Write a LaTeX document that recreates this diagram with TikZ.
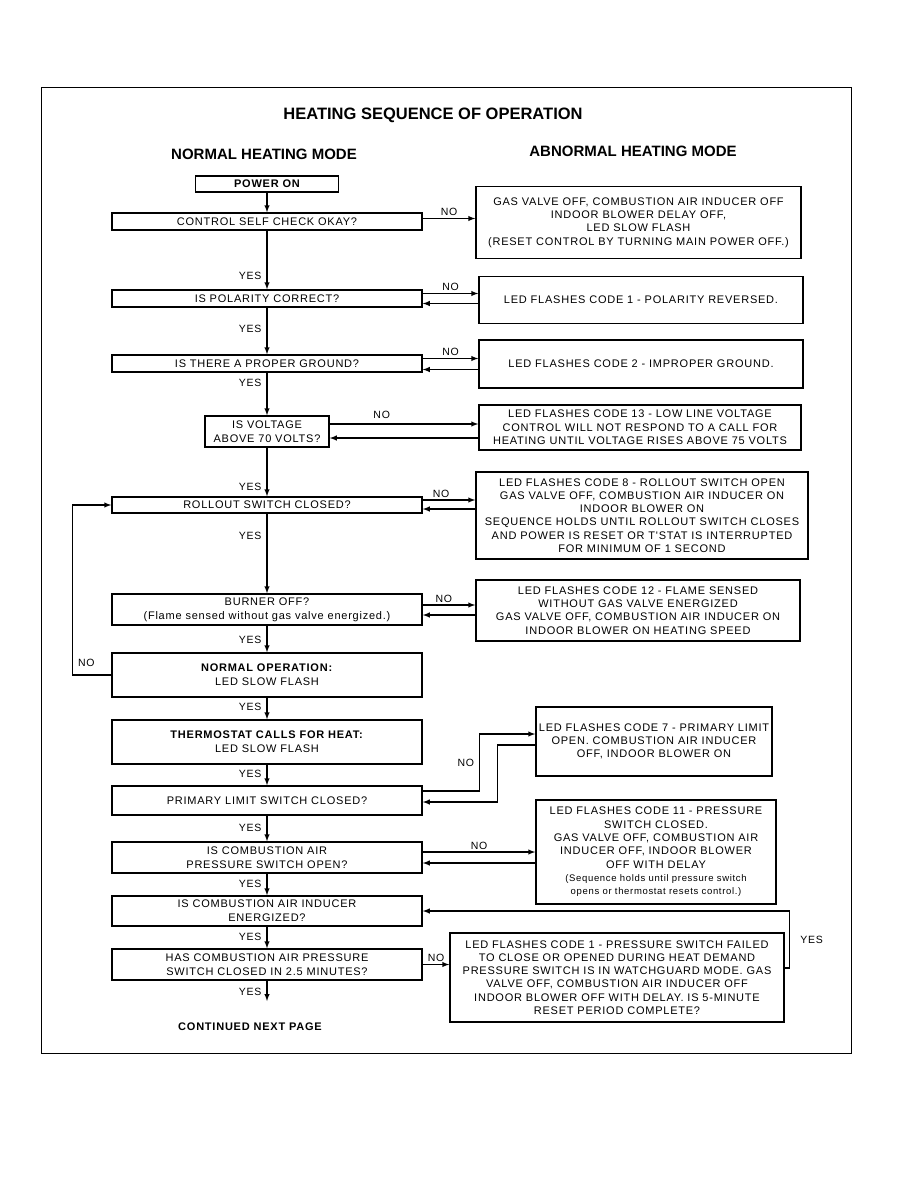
\documentclass[tikz,border=0pt]{standalone}
\usepackage{fontspec}
\setmainfont{Liberation Sans}
\newfontfamily\boxfont[LetterSpace=7]{Liberation Sans}
\usepackage{tikz}
\tikzset{>=latex}

\begin{document}
\begin{tikzpicture}[x=1pt,y=-1pt]
    \tikzstyle{stepbox}=[draw,line width=1.5pt,inner sep=0pt,align=center,font=\boxfont\fontsize{11}{14}\selectfont];
    \tikzstyle{failbox}=[stepbox,font=\boxfont\fontsize{11}{13.3}\selectfont];
    \tikzstyle{wire}=[->,line width=1.4pt];
    \tikzstyle{lbl}=[font=\boxfont\fontsize{10.5}{11}\selectfont,inner sep=2pt];
    \useasboundingbox (0,0) rectangle (918,1188);
    \draw[line width=1pt] (41,88) rectangle (851,1053);
    \node[font=\bfseries\fontsize{16.5}{18}\selectfont] (title) at (433,115) {HEATING SEQUENCE OF OPERATION};
    \node[font=\bfseries\fontsize{15}{17}\selectfont] (normal) at (264,154) {NORMAL HEATING MODE};
    \node[font=\bfseries\fontsize{15}{17}\selectfont] (abnormal) at (633,151) {ABNORMAL HEATING MODE};

    \node[stepbox,minimum width=143,minimum height=16,font=\boxfont\bfseries\fontsize{11}{14}\selectfont] (power) at (267,184) {POWER ON};
    \node[stepbox,minimum width=310,minimum height=17] (check) at (267,221.5) {CONTROL SELF CHECK OKAY?};
    \node[stepbox,minimum width=310,minimum height=17] (polar) at (267,298.5) {IS POLARITY CORRECT?};
    \node[stepbox,minimum width=310,minimum height=17] (ground) at (267,363.5) {IS THERE A PROPER GROUND?};
    \node[stepbox,minimum width=124,minimum height=31] (volt) at (267,431.5) {IS VOLTAGE\\ABOVE 70 VOLTS?};
    \node[stepbox,minimum width=310,minimum height=16] (rollout) at (267,505) {ROLLOUT SWITCH CLOSED?};
    \node[stepbox,minimum width=310,minimum height=31] (burner) at (267,609.5) {BURNER OFF?\\(Flame sensed without gas valve energized.)};
    \node[stepbox,minimum width=310,minimum height=44] (normop) at (267,675) {\textbf{NORMAL OPERATION:}\\LED SLOW FLASH};
    \node[stepbox,minimum width=310,minimum height=44] (thermo) at (267,742) {\textbf{THERMOSTAT CALLS FOR HEAT:}\\LED SLOW FLASH};
    \node[stepbox,minimum width=310,minimum height=29] (prim) at (267,800.5) {PRIMARY LIMIT SWITCH CLOSED?};
    \node[stepbox,minimum width=310,minimum height=31] (combp) at (267,857.5) {IS COMBUSTION AIR\\PRESSURE SWITCH OPEN?};
    \node[stepbox,minimum width=310,minimum height=30] (induc) at (267,911) {IS COMBUSTION AIR INDUCER\\ENERGIZED?};
    \node[stepbox,minimum width=310,minimum height=31] (hasp) at (267,964.5) {HAS COMBUSTION AIR PRESSURE\\SWITCH CLOSED IN 2.5 MINUTES?};
    \coordinate (cont) at (267,1001);
    \node[font=\boxfont\bfseries\fontsize{11}{13}\selectfont] (next) at (250,1027) {CONTINUED NEXT PAGE};

    \node[failbox,minimum width=325,minimum height=72] (fail1) at (638.5,222.5) {GAS VALVE OFF, COMBUSTION AIR INDUCER OFF\\INDOOR BLOWER DELAY OFF,\\LED SLOW FLASH\\(RESET CONTROL BY TURNING MAIN POWER OFF.)};
    \node[failbox,minimum width=324,minimum height=47] (fail2) at (641,300) {LED FLASHES CODE 1 - POLARITY REVERSED.};
    \node[failbox,minimum width=324,minimum height=48] (fail3) at (641,364) {LED FLASHES CODE 2 - IMPROPER GROUND.};
    \node[failbox,minimum width=322,minimum height=45] (fail4) at (640,427.5) {LED FLASHES CODE 13 - LOW LINE VOLTAGE\\CONTROL WILL NOT RESPOND TO A CALL FOR\\HEATING UNTIL VOLTAGE RISES ABOVE 75 VOLTS};
    \node[failbox,minimum width=332,minimum height=87] (fail5) at (642,515.5) {LED FLASHES CODE 8 - ROLLOUT SWITCH OPEN\\GAS VALVE OFF, COMBUSTION AIR INDUCER ON\\INDOOR BLOWER ON\\SEQUENCE HOLDS UNTIL ROLLOUT SWITCH CLOSES\\AND POWER IS RESET OR T'STAT IS INTERRUPTED\\FOR MINIMUM OF 1 SECOND};
    \node[failbox,minimum width=324,minimum height=61] (fail6) at (638,610.5) {LED FLASHES CODE 12 - FLAME SENSED\\WITHOUT GAS VALVE ENERGIZED\\GAS VALVE OFF, COMBUSTION AIR INDUCER ON\\INDOOR BLOWER ON HEATING SPEED};
    \node[failbox,minimum width=236,minimum height=69] (fail7) at (654,741.5) {LED FLASHES CODE 7 - PRIMARY LIMIT\\OPEN. COMBUSTION AIR INDUCER\\OFF, INDOOR BLOWER ON};
    \node[failbox,minimum width=240,minimum height=104] (fail8) at (656,852) {LED FLASHES CODE 11 - PRESSURE\\SWITCH CLOSED.\\GAS VALVE OFF, COMBUSTION AIR\\INDUCER OFF, INDOOR BLOWER\\OFF WITH DELAY\\\fontsize{9.5}{13.3}\selectfont(Sequence holds until pressure switch\\\fontsize{9.5}{13.3}\selectfont opens or thermostat resets control.)};
    \node[failbox,minimum width=334,minimum height=89] (fail9) at (617,977.5) {LED FLASHES CODE 1 - PRESSURE SWITCH FAILED\\TO CLOSE OR OPENED DURING HEAT DEMAND\\PRESSURE SWITCH IS IN WATCHGUARD MODE. GAS\\VALVE OFF, COMBUSTION AIR INDUCER OFF\\INDOOR BLOWER OFF WITH DELAY. IS 5-MINUTE\\RESET PERIOD COMPLETE?};

    \draw[wire] (power) -- (check);
    \draw[wire] (check) -- (polar) node[lbl,pos=0.78,left=3pt]{YES};
    \draw[wire] (polar) -- (ground) node[lbl,pos=0.46,left=3pt]{YES};
    \draw[wire] (ground) -- (volt) node[lbl,pos=0.25,left=3pt]{YES};
    \draw[wire] (volt) -- (rollout) node[lbl,pos=0.8,left=3pt]{YES};
    \draw[wire] (rollout) -- (burner) node[lbl,pos=0.28,left=3pt]{YES};
    \draw[wire] (burner) -- (normop) node[lbl,pos=0.54,left=3pt]{YES};
    \draw[wire] (normop) -- (thermo) node[lbl,pos=0.43,left=3pt]{YES};
    \draw[wire] (thermo) -- (prim) node[lbl,pos=0.45,left=3pt]{YES};
    \draw[wire] (prim) -- (combp) node[lbl,pos=0.48,left=3pt]{YES};
    \draw[wire] (combp) -- (induc) node[lbl,pos=0.48,left=3pt]{YES};
    \draw[wire] (induc) -- (hasp) node[lbl,pos=0.48,left=3pt]{YES};
    \draw[wire] (hasp) -- (cont) node[lbl,pos=0.55,left=3pt]{YES};

    \draw[wire] ([yshift=3]check.east) -- ([yshift=3]check.east -| fail1.west) node[lbl,midway,above]{NO};
    \draw[wire] ([yshift=5]polar.east) -- ([yshift=5]polar.east -| fail2.west) node[lbl,midway,above]{NO};
    \draw[wire] ([yshift=-5]polar.east -| fail2.west) -- ([yshift=-5]polar.east);
    \draw[wire] ([yshift=5]ground.east) -- ([yshift=5]ground.east -| fail3.west) node[lbl,midway,above]{NO};
    \draw[wire] ([yshift=-6]ground.east -| fail3.west) -- ([yshift=-6]ground.east);
    \draw[wire] ([yshift=7.5]volt.east) -- ([yshift=7.5]volt.east -| fail4.west) node[lbl,pos=0.35,above=3pt]{NO};
    \draw[wire] ([yshift=-6.5]volt.east -| fail4.west) -- ([yshift=-6.5]volt.east);
    \draw[wire] ([yshift=5]rollout.east) -- ([yshift=5]rollout.east -| fail5.west) node[lbl,pos=0.35,above]{NO};
    \draw[wire] ([yshift=-4]rollout.east -| fail5.west) -- ([yshift=-4]rollout.east);
    \draw[wire] ([yshift=4.5]burner.east) -- ([yshift=4.5]burner.east -| fail6.west) node[lbl,pos=0.4,above]{NO};
    \draw[wire] ([yshift=-5.5]burner.east -| fail6.west) -- ([yshift=-5.5]burner.east);
    \draw[wire] (normop.west) -- ++(-39,0) node[lbl,pos=0.64,above=6pt]{NO} |- (rollout.west);
    \draw[wire] ([yshift=9.5]prim.east) -- ++(57,0) |- ([yshift=7.5]fail7.west) node[lbl,pos=0.25,left=3pt]{NO};
    \draw[wire] ([yshift=-3.5]fail7.west) -- ++(-38,0) |- ([yshift=-1.5]prim.east);
    \draw[wire] ([yshift=5.5]combp.east) -- ([yshift=5.5]combp.east -| fail8.west) node[lbl,midway,above]{NO};
    \draw[wire] ([yshift=-5.5]combp.east -| fail8.west) -- ([yshift=-5.5]combp.east);
    \draw[wire] (hasp.east) -- (hasp.east -| fail9.west) node[lbl,midway,above]{NO};
    \draw[wire] ([yshift=9.5]fail9.east) -- ++(5,0) |- (induc.east) node[lbl,pos=0.25,right=8pt]{YES};
\end{tikzpicture}
\end{document}
